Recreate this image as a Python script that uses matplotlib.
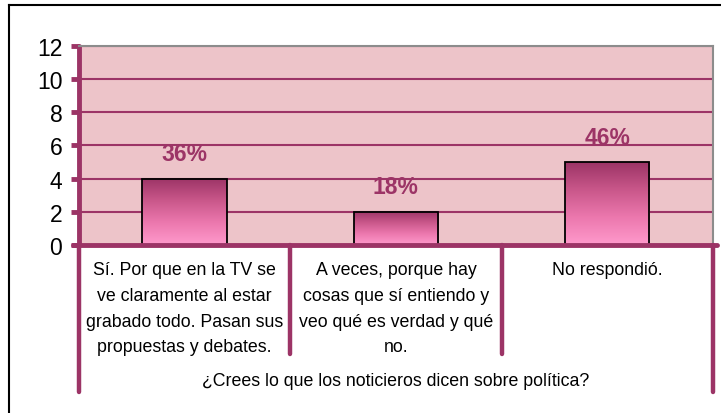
import matplotlib
matplotlib.use("Agg")
import matplotlib.pyplot as plt
import numpy as np
from matplotlib.colors import LinearSegmentedColormap
from matplotlib.lines import Line2D
import matplotlib.transforms as mtransforms

# data
categories = ["Sí. Por que en la TV se\nve claramente al estar\ngrabado todo. Pasan sus\npropuestas y debates.",
              "A veces, porque hay\ncosas que sí entiendo y\nveo qué es verdad y qué\nno.",
              "No respondió."]
values = [4, 2, 5]
pct_labels = ["36%", "18%", "46%"]
group_title = "¿Crees lo que los noticieros dicen sobre política?"

plt.rcParams['font.family'] = ['Liberation Sans', 'DejaVu Sans']

magenta = '#9C3466'
bg = '#EDC4C9'

fig = plt.figure(figsize=(7.21, 4.14), dpi=100)
ax = fig.add_axes([0.1096, 0.4058, 0.879, 0.4807])
ax.set_facecolor(bg)

x = np.arange(len(values))
ax.set_xlim(-0.5, 2.5)
ax.set_ylim(0, 12)
ax.set_yticks(range(0, 13, 2))
ax.set_xticks([])

# gridlines
for yv in range(2, 13, 2):
    ax.axhline(yv, color=magenta, lw=1.5, zorder=1)

# bars with gradient fill (dark on top, light at the bottom)
bars = ax.bar(x, values, width=0.4, facecolor='none', edgecolor='black', lw=1.3, zorder=4)
cmap = LinearSegmentedColormap.from_list('pinkgrad', ['#9C3466', '#C9578A', '#EC78AE', '#FF9ACC'])
grad = np.linspace(0, 1, 256).reshape(-1, 1)
for b in bars:
    x0, w, h = b.get_x(), b.get_width(), b.get_height()
    ax.imshow(grad, cmap=cmap, aspect='auto', extent=(x0, x0 + w, 0, h),
              origin='upper', zorder=3, interpolation='bicubic')
ax.set_xlim(-0.5, 2.5)
ax.set_ylim(0, 12)

# data labels
for xi, v, lab in zip(x, values, pct_labels):
    ax.annotate(lab, (xi, v), xytext=(0, 18), textcoords='offset points',
                ha='center', va='center', fontsize=16.5, fontweight='bold',
                color=magenta, zorder=5)

# spines
for s in ['top', 'right']:
    ax.spines[s].set_color('#8C8C8C')
    ax.spines[s].set_linewidth(1.5)
ax.spines['bottom'].set_visible(False)
ax.spines['left'].set_color(magenta)
ax.spines['left'].set_linewidth(3.5)
ax.spines['left'].set_capstyle('round')
ax.tick_params(axis='y', length=6, width=3.5, color=magenta, labelsize=16.5, pad=6)
for t in ax.yaxis.get_ticklines():
    t.set_solid_capstyle('round')

# x axis line and category dividers
trans = mtransforms.blended_transform_factory(ax.transData, ax.transAxes)
ax.plot([-0.53, 2.52], [0, 0], transform=trans, color=magenta, lw=3.5,
        clip_on=False, solid_capstyle='round', zorder=6)
for xd, bottom in zip([-0.5, 0.5, 1.5, 2.5], [-0.74, -0.55, -0.55, -0.74]):
    ax.plot([xd, xd], [0, bottom], transform=trans, color=magenta, lw=3.2,
            clip_on=False, solid_capstyle='round', zorder=6)

# category labels
for xi, cat in zip(x, categories):
    ax.text(xi, -0.08, cat, transform=trans, ha='center', va='top',
            fontsize=12.8, linespacing=1.68, color='black')
ax.text(1, -0.68, group_title, transform=trans, ha='center', va='center',
        fontsize=12.8, color='black')

# outer border (left and top)
fig.add_artist(Line2D([0.0125, 0.0125], [0, 0.9855], color='black', lw=1.5))
fig.add_artist(Line2D([0.0125, 1.0], [0.9855, 0.9855], color='black', lw=1.5))

fig.savefig('out.png', dpi=100)
